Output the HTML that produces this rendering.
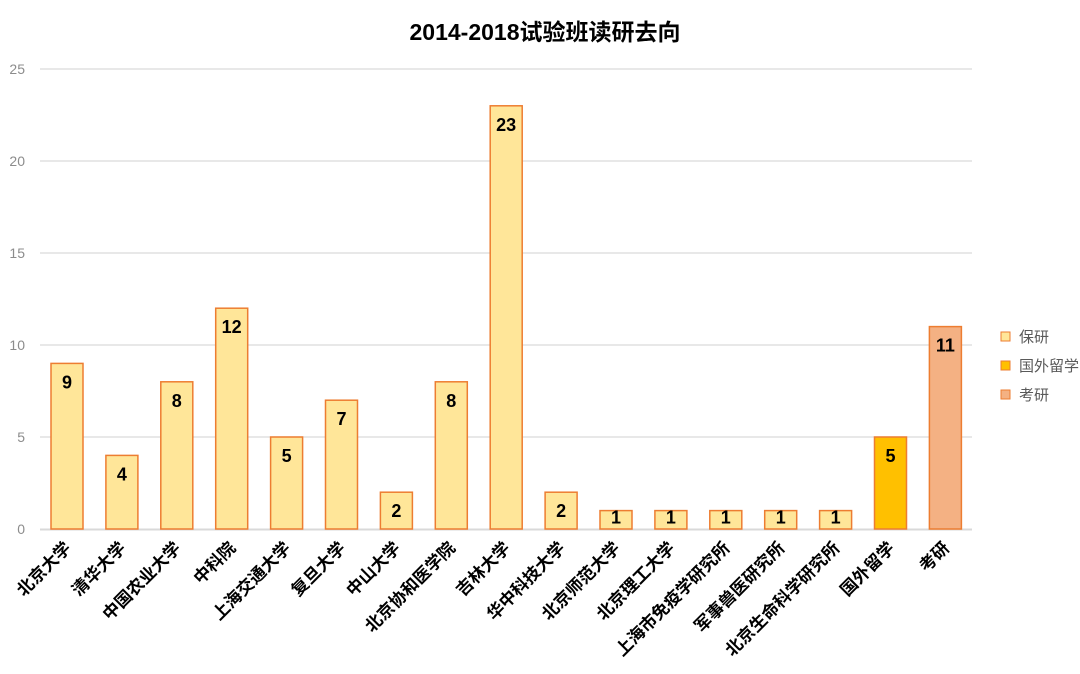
<!DOCTYPE html>
<html><head><meta charset="utf-8"><style>body{margin:0;background:#fff}svg{display:block}</style></head>
<body>
<svg width="1080" height="674" viewBox="0 0 1080 674" xmlns="http://www.w3.org/2000/svg" font-family="'Liberation Sans','Noto Sans CJK SC',sans-serif">
<text x="545" y="40" text-anchor="middle" font-size="23" font-weight="bold" fill="#000">2014-2018试验班读研去向</text>
<g stroke="#d9d9d9" stroke-width="1.3">
<line x1="40" x2="972" y1="69" y2="69"/><line x1="40" x2="972" y1="161" y2="161"/><line x1="40" x2="972" y1="253" y2="253"/><line x1="40" x2="972" y1="345" y2="345"/><line x1="40" x2="972" y1="437" y2="437"/><line x1="40" x2="972" y1="529.5" y2="529.5" stroke-width="2"/>
</g>
<g font-size="14" fill="#8c8c8c" text-anchor="end">
<text x="25" y="74">25</text><text x="25" y="166">20</text><text x="25" y="258">15</text><text x="25" y="350">10</text><text x="25" y="442">5</text><text x="25" y="534">0</text>
</g>
<g id="bars" stroke="#ED7D31" stroke-width="1.5"></g>
<g id="vals" font-size="18" font-weight="bold" text-anchor="middle" fill="#000"></g>
<g id="labs" font-size="17" font-weight="bold" text-anchor="end" fill="#000"></g>
<g font-size="15" fill="#595959">
<rect x="1001" y="332" width="9" height="9" fill="#FFE699" stroke="#ED7D31"/><text x="1019" y="342">保研</text>
<rect x="1001" y="361" width="9" height="9" fill="#FFC000" stroke="#ED7D31"/><text x="1019" y="371">国外留学</text>
<rect x="1001" y="390" width="9" height="9" fill="#F4B183" stroke="#ED7D31"/><text x="1019" y="400">考研</text>
</g>
<script>
var d=[["北京大学",9],["清华大学",4],["中国农业大学",8],["中科院",12],["上海交通大学",5],["复旦大学",7],["中山大学",2],["北京协和医学院",8],["吉林大学",23],["华中科技大学",2],["北京师范大学",1],["北京理工大学",1],["上海市免疫学研究所",1],["军事兽医研究所",1],["北京生命科学研究所",1],["国外留学",5],["考研",11]];
var ns="http://www.w3.org/2000/svg",b=document.getElementById("bars"),v=document.getElementById("vals"),l=document.getElementById("labs");
d.forEach(function(e,i){var cx=67+i*54.9,h=e[1]*18.4,y=529-h;
var r=document.createElementNS(ns,"rect");r.setAttribute("x",cx-16);r.setAttribute("y",y);r.setAttribute("width",32);r.setAttribute("height",h);
r.setAttribute("fill",i==15?"#FFC000":i==16?"#F4B183":"#FFE699");b.appendChild(r);
var t=document.createElementNS(ns,"text");t.setAttribute("x",cx);t.setAttribute("y",y+(e[1]<2?13:25));t.textContent=e[1];v.appendChild(t);
var s=document.createElementNS(ns,"text");s.setAttribute("transform","translate("+(cx+5)+",549) rotate(-45)");s.textContent=e[0];l.appendChild(s);});
</script>
</svg>
</body></html>
